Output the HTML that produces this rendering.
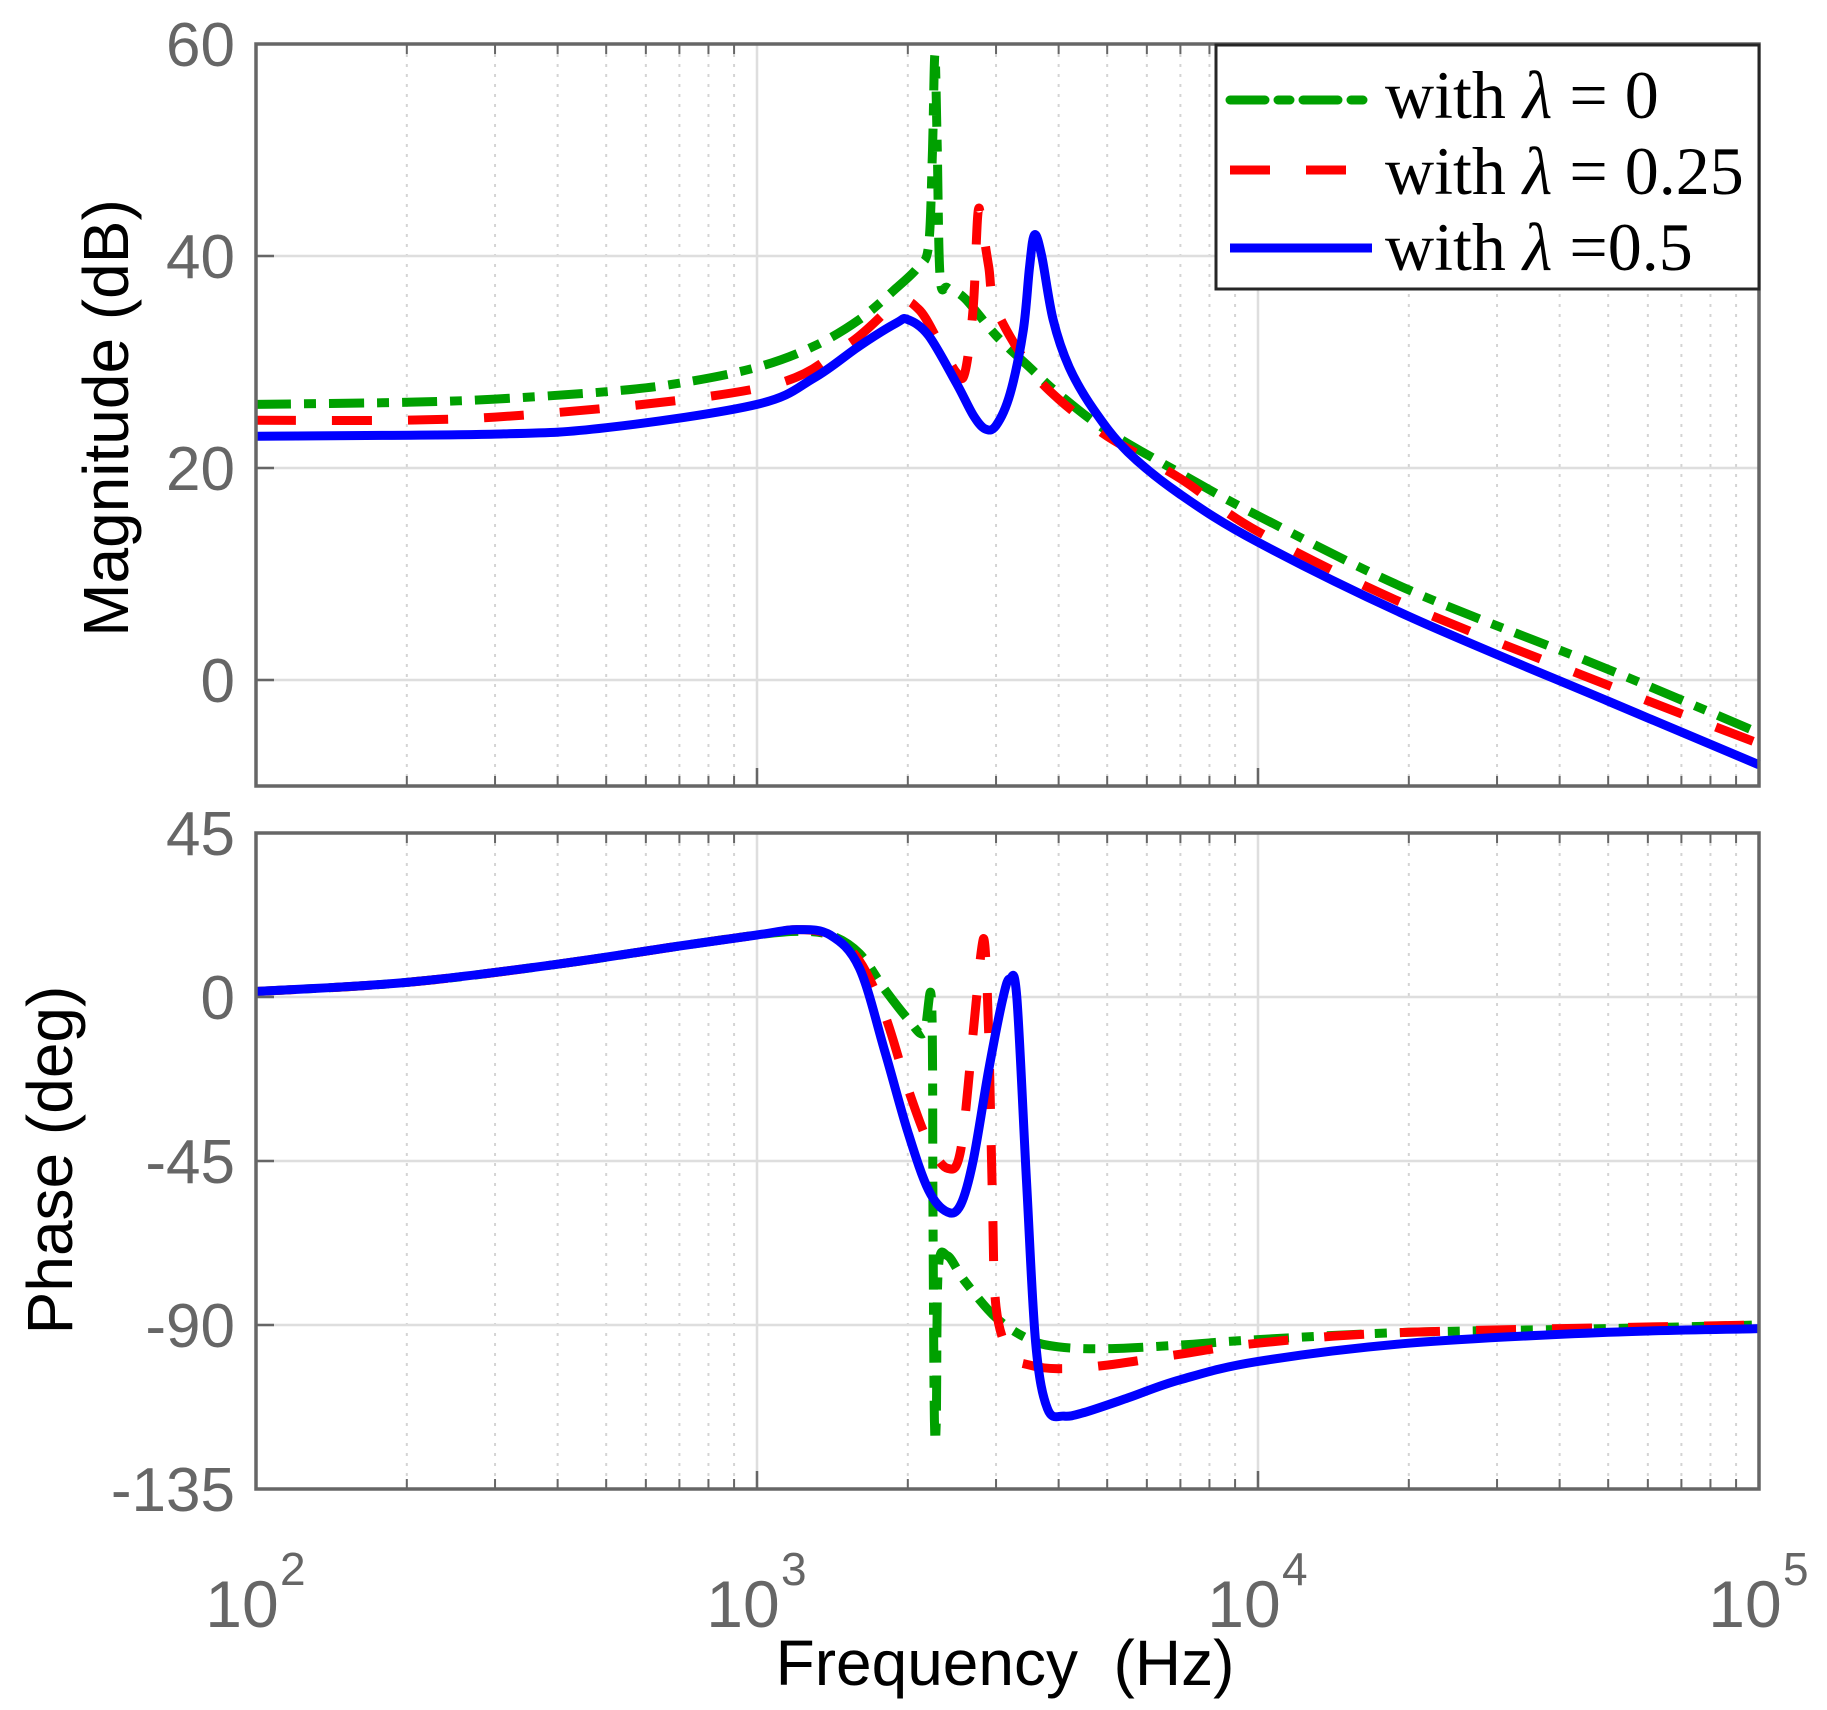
<!DOCTYPE html>
<html><head><meta charset="utf-8"><style>
html,body{margin:0;padding:0;background:#fff;}
svg{display:block;}
</style></head><body>
<svg id="chart" width="1827" height="1710" viewBox="0 0 1827 1710" xmlns="http://www.w3.org/2000/svg">
<g id="grid"></g><g id="series"></g><g id="axes"></g><g id="labels"></g>
<g id="legend">
<rect x="1216" y="45" width="543" height="244" fill="#fff" stroke="#262626" stroke-width="3"/>
<line x1="1230" y1="100" x2="1372" y2="100" stroke="#00a000" stroke-width="9" stroke-linecap="round" stroke-dasharray="35,13,12,13"/>
<text x="1385" y="118" font-family="Liberation Serif, serif" font-size="68">with <tspan font-style="italic">λ</tspan> = 0</text>
<line x1="1230" y1="170" x2="1372" y2="170" stroke="#ff0000" stroke-width="9" stroke-dasharray="40,36"/>
<text x="1385" y="194" font-family="Liberation Serif, serif" font-size="68">with <tspan font-style="italic">λ</tspan> = 0.25</text>
<line x1="1230" y1="248" x2="1372" y2="248" stroke="#0000ff" stroke-width="9"/>
<text x="1385" y="270" font-family="Liberation Serif, serif" font-size="68">with <tspan font-style="italic">λ</tspan> =0.5</text>
</g>
</svg>
<script>
const freqG = [100,200,300,500,700,1000,1300,1600,1900,2100,2200,2240,2265,2290,2320,2400,2600,3000,3500,4000,5000,7000,10000,20000,50000,100000];
const magG  = [26,26.2,26.5,27.2,28,29.5,31.5,34,37,39,41,50,59,50,38,37,36,32.5,29.5,27,23.5,19.5,15.5,8.5,1,-5];
const freqR = [100,300,1000,1500,1900,2100,2300,2500,2600,2700,2760,2810,2900,3000,3500,4000,5000,7000,10000,20000,50000,100000];
const magR  = [24.5,24.8,27.5,31.5,35.5,35,32,29,29,35,44,43,39,35,29.5,26.5,23,19,14,7,-0.5,-6];
const freqB = [100,300,500,1000,1300,1600,1900,2000,2200,2500,2700,2850,3000,3200,3400,3500,3580,3700,3900,4200,4700,5500,7000,10000,20000,50000,100000];
const magB  = [23,23.2,23.8,26,28.5,31.5,33.7,34,32.5,28,25,23.7,24,27,33,39,42,40,34,29.5,25.5,21.5,17.5,13,6,-2,-8];
const pfreqG = [100,200,400,700,1000,1200,1400,1600,1800,2000,2150,2230,2245,2260,2280,2300,2400,2600,3000,3500,4000,5000,7000,10000,20000,50000,100000];
const phG    = [1.5,4,9,14,17,18,17,12,2,-6,-10,-1,-60,-116,-116,-75,-71,-78,-88,-94,-96,-96.5,-95.5,-94,-92,-91,-90];
const pfreqR = [100,200,400,700,1000,1200,1400,1600,1800,2000,2200,2400,2550,2700,2800,2850,2900,2950,3000,3200,3500,4000,5000,7000,10000,20000,100000];
const phR    = [1.5,4,9,14,17,18.5,17,10,-5,-25,-40,-47,-42,-10,12,14,-10,-55,-85,-98,-101,-102,-101,-98,-95,-92,-90];
const pfreqB = [100,200,400,700,1000,1200,1400,1600,1800,2000,2200,2400,2550,2700,2900,3100,3200,3300,3450,3600,3800,4100,4500,5500,7000,10000,20000,50000,100000];
const phB    = [1.5,4,9,14,17,18.5,17,8,-15,-37,-53,-59,-57,-45,-20,0,5,0,-50,-95,-113,-115,-114,-110,-105,-100,-95,-92,-91];
const magTicks = [60,40,20,0];
const phTicks = [45,0,-45,-90,-135];
const decades = [2,3,4,5];

const NS='http://www.w3.org/2000/svg';
const L=256,R=1759;
const top1=44,bot1=786,top2=833,bot2=1489;
const X=f=>L+(R-L)*(Math.log10(f)-2)/3;
const Ym=v=>top1+(bot1-top1)*(60-v)/70;
const Yp=v=>top2+(bot2-top2)*(45-v)/180;
function mk(tag,attrs,parent){const e=document.createElementNS(NS,tag);for(const k in attrs)e.setAttribute(k,attrs[k]);parent.appendChild(e);return e;}
const grid=document.getElementById('grid'),axes=document.getElementById('axes'),series=document.getElementById('series'),labels=document.getElementById('labels');
const FONT='Liberation Sans, sans-serif';
[[top1,bot1],[top2,bot2]].forEach(([t,b])=>{
  for(let d=2;d<5;d++)for(let m=2;m<10;m++){const x=X(m*Math.pow(10,d));
    const g=mk('line',{x1:x,x2:x,y1:t,y2:b,stroke:'#d4d4d4','stroke-width':2,'stroke-dasharray':'3,7'},grid);
    
    
    mk('line',{x1:x,x2:x,y1:b,y2:b-10,stroke:'#666','stroke-width':2},axes);
    mk('line',{x1:x,x2:x,y1:t,y2:t+10,stroke:'#666','stroke-width':2},axes);}
  decades.forEach(d=>{const x=X(Math.pow(10,d));
    const g=mk('line',{x1:x,x2:x,y1:t,y2:b,stroke:'#dedede','stroke-width':2.5},grid);
    
    
    mk('line',{x1:x,x2:x,y1:b,y2:b-18,stroke:'#666','stroke-width':2.5},axes);});
});
magTicks.forEach(v=>{const y=Ym(v);
  mk('line',{x1:L,x2:R,y1:y,y2:y,stroke:'#dedede','stroke-width':2.5},grid);
  mk('line',{x1:L,x2:L+18,y1:y,y2:y,stroke:'#666','stroke-width':2.5},axes);
  const t=mk('text',{x:235,y:y+22,'text-anchor':'end','font-family':FONT,'font-size':62,fill:'#666'},labels);
  
  
  t.textContent=v;});
phTicks.forEach(v=>{const y=Yp(v);
  mk('line',{x1:L,x2:R,y1:y,y2:y,stroke:'#dedede','stroke-width':2.5},grid);
  mk('line',{x1:L,x2:L+18,y1:y,y2:y,stroke:'#666','stroke-width':2.5},axes);
  const t=mk('text',{x:235,y:y+22,'text-anchor':'end','font-family':FONT,'font-size':62,fill:'#666'},labels);
  
  
  t.textContent=v;});
decades.forEach(d=>{const x=X(Math.pow(10,d));
  const t=mk('text',{x:x-14,y:1627,'text-anchor':'middle','font-family':FONT,'font-size':66,fill:'#666'},labels);
  
  
  t.textContent='10';
  const s=mk('text',{x:x+24,y:1585,'text-anchor':'start','font-family':FONT,'font-size':46,fill:'#666'},labels);
  s.textContent=d;});
[[top1,bot1],[top2,bot2]].forEach(([t,b])=>{
  const r=mk('rect',{x:L,y:t,width:R-L,height:b-t,fill:'none',stroke:'#666','stroke-width':3.5},axes);
  
  });
function line(fs,vs,Y,color,dash,name){
  const P=fs.map((f,i)=>[X(f),Y(vs[i])]);
  let d='M'+P[0][0].toFixed(1)+','+P[0][1].toFixed(1);
  for(let i=0;i<P.length-1;i++){
    const p0=P[Math.max(0,i-1)],p1=P[i],p2=P[i+1],p3=P[Math.min(P.length-1,i+2)];
    const c1=[p1[0]+(p2[0]-p0[0])/6,p1[1]+(p2[1]-p0[1])/6];
    const c2=[p2[0]-(p3[0]-p1[0])/6,p2[1]-(p3[1]-p1[1])/6];
    d+=' C'+c1[0].toFixed(1)+','+c1[1].toFixed(1)+' '+c2[0].toFixed(1)+','+c2[1].toFixed(1)+' '+p2[0].toFixed(1)+','+p2[1].toFixed(1);
  }
  const p=mk('path',{d:d,fill:'none',stroke:color,'stroke-width':9,'stroke-linejoin':'round'},series);
  if(dash)p.setAttribute('stroke-dasharray',dash);
  
  }
line(freqG,magG,Ym,'#00a000','35,13,12,13','magnitude-lambda-0');
line(freqR,magR,Ym,'#ff0000','40,36','magnitude-lambda-025');
line(freqB,magB,Ym,'#0000ff',null,'magnitude-lambda-05');
line(pfreqG,phG,Yp,'#00a000','35,13,12,13','phase-lambda-0');
line(pfreqR,phR,Yp,'#ff0000','40,36','phase-lambda-025');
line(pfreqB,phB,Yp,'#0000ff',null,'phase-lambda-05');
let t=mk('text',{x:1005,y:1685,'text-anchor':'middle','font-family':FONT,'font-size':64,fill:'#000',style:'white-space:pre'},labels);


t.textContent='Frequency  (Hz)';
t=mk('text',{x:128,y:418,'text-anchor':'middle','font-family':FONT,'font-size':64,fill:'#000',transform:'rotate(-90 128 418)'},labels);


t.textContent='Magnitude (dB)';
t=mk('text',{x:72,y:1160,'text-anchor':'middle','font-family':FONT,'font-size':64,fill:'#000',transform:'rotate(-90 72 1160)'},labels);


t.textContent='Phase (deg)';
</script>
</body></html>
